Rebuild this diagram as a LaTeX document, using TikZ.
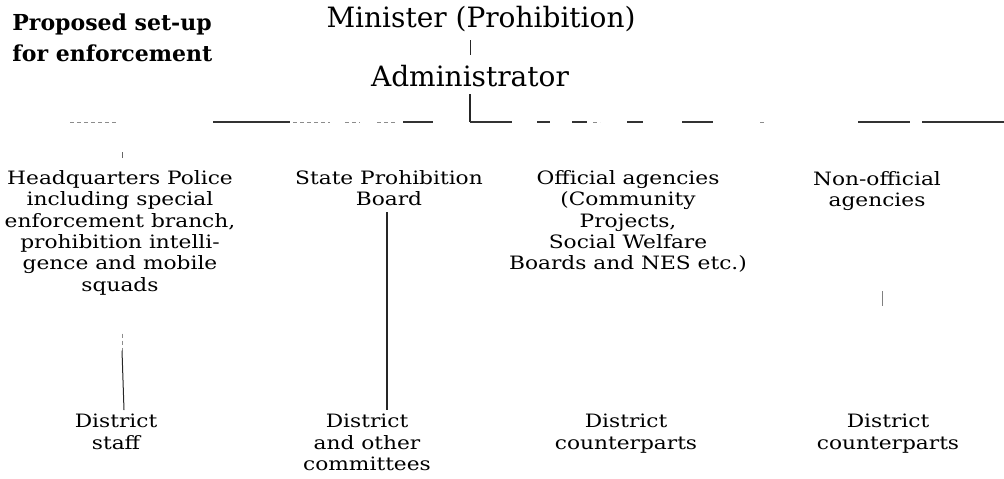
\documentclass[tikz,border=0pt]{standalone}
\usepackage{fontspec}
\setmainfont{DejaVu Serif}
\newfontfamily\bodyfont[FakeStretch=1.18]{DejaVu Serif}
\usetikzlibrary{calc}
\begin{document}
\begin{tikzpicture}[x=0.5pt,y=-0.5pt,
  txt/.style={inner sep=0pt, align=center, anchor=north, font=\bodyfont\fontsize{9.2}{10.7}\selectfont},
  big/.style={inner sep=0pt, anchor=base, font=\fontsize{14}{16}\selectfont},
  ttl/.style={inner sep=0pt, align=left, anchor=north west, font=\bfseries\fontsize{11}{15.5}\selectfont},
  conn/.style={line width=0.5pt, black!85},
  seg/.style={line width=0.6pt, black!80},
  faint/.style={line width=0.4pt, black!45, dash pattern=on 2pt off 1.5pt}]
\useasboundingbox (0,0) rectangle (1004,478);
% title
\node[ttl] (title) at (12,13) {Proposed set-up\\for enforcement};
% top of hierarchy
\node[big] (min) at (481,27) {Minister (Prohibition)};
\node[big] (adm) at (470,86) {Administrator};
\coordinate (vx) at (470,0);
\coordinate (c1) at (122,0);
\coordinate (c1b) at (124,0);
\coordinate (c2) at (387,0);
\coordinate (c4) at (882,0);
\coordinate (bl) at (0,122);
\coordinate (br) at (1004,122);
\draw[conn, line width=0.4pt] ($(min.base -| vx)+(0,13)$) -- ($(adm.base -| vx)+(0,-31)$);
\draw[conn, line width=0.8pt] ($(adm.base -| vx)+(0,8)$) -- (bl -| vx);
% horizontal bar (broken, as printed)
\foreach \a/\b in {213/290, 403/433, 470/512, 537/550, 572/587, 627/643, 682/713, 858/910, 922/1004}
  \draw[seg] ($(bl)+(\a,0)$) -- ($(bl)+(\b,0)$);
\foreach \a/\b in {70/118, 293/330, 345/360, 377/398, 593/600, 760/766}
  \draw[faint] ($(bl)+(\a,0)$) -- ($(bl)+(\b,0)$);
% columns
\node[txt] (hq) at (120,170) {Headquarters Police\\including special\\enforcement branch,\\prohibition intelli-\\gence and mobile\\squads};
\node[txt] (spb) at (389,170) {State Prohibition\\Board};
\node[txt] (off) at (628,170) {Official agencies\\(Community\\Projects,\\Social Welfare\\Boards and NES etc.)};
\node[txt] (non) at (877,171) {Non-official\\agencies};
% district nodes
\node[txt] (d1) at (116,414) {District\\staff};
\node[txt] (d2) at (367,414) {District\\and other\\committees};
\node[txt] (d3) at (626,414) {District\\counterparts};
\node[txt] (d4) at (888,414) {District\\counterparts};
% connectors (only the surviving traces)
\draw[conn, line width=0.3pt, black!60] ($(hq.north -| c1)+(0,-12)$) -- ++(0,-6);
\draw[faint] ($(hq.south -| c1)+(0,38)$) -- ++(0,17) coordinate (h2);
\draw[conn] (h2) -- ($(d1.north -| c1b)+(0,-4)$);
\draw[conn, line width=0.6pt] ($(spb.south -| c2)+(0,6)$) -- ($(d2.north -| c2)+(0,-4)$);
\draw[conn, line width=0.3pt, black!50] ($(non.south -| c4)+(0,80)$) -- ++(0,15);
\end{tikzpicture}
\end{document}
